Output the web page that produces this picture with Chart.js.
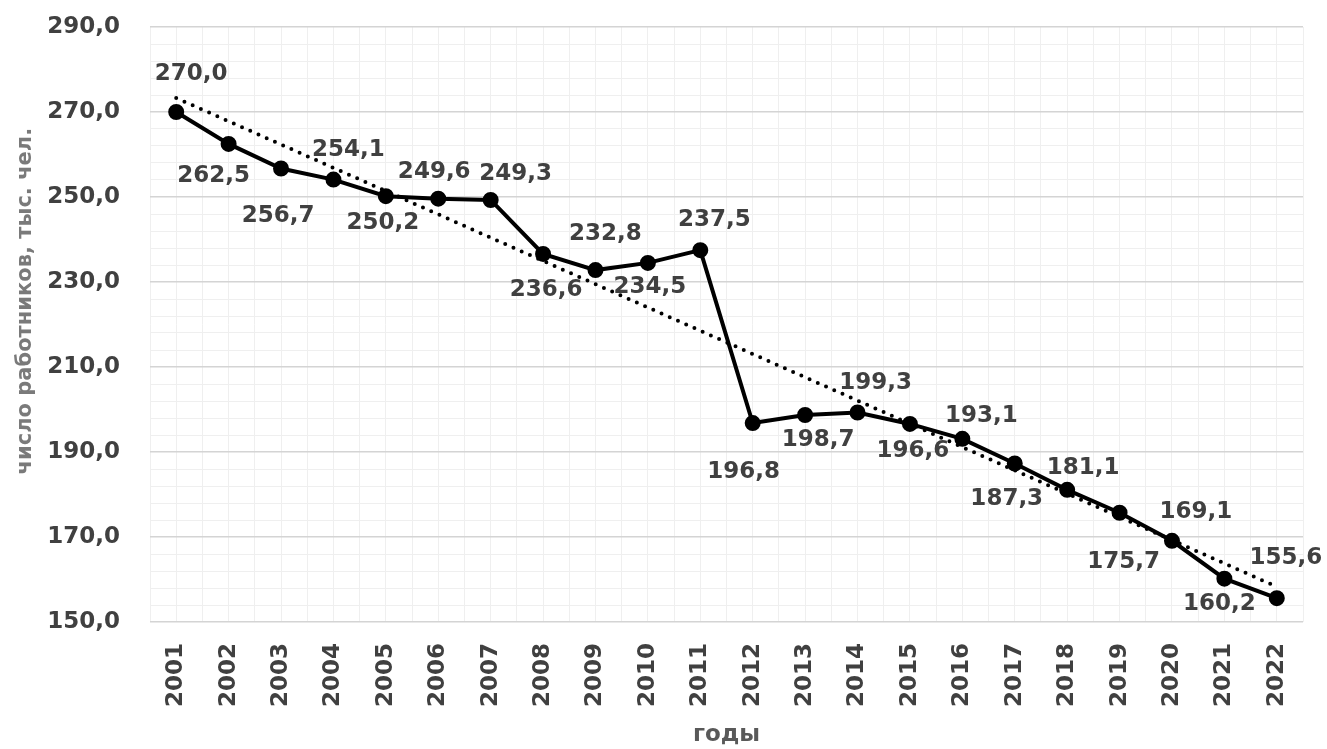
<!DOCTYPE html>
<html>
<head>
<meta charset="utf-8">
<script src="https://cdn.jsdelivr.net/npm/chart.js@4/dist/chart.umd.min.js"></script>
<style>
    html, body { margin: 0; padding: 0; background: #fff; }
    #wrap { width: 1327px; height: 749px; }
</style>
</head>
<body>
<div id="wrap"><canvas id="cav" width="1327" height="749"></canvas></div>
<script>
// Data
var years = [2001, 2002, 2003, 2004, 2005, 2006, 2007, 2008, 2009, 2010, 2011,
             2012, 2013, 2014, 2015, 2016, 2017, 2018, 2019, 2020, 2021, 2022];
var workers = [270.0, 262.5, 256.7, 254.1, 250.2, 249.6, 249.3, 236.6, 232.8, 234.5, 237.5,
               196.8, 198.7, 199.3, 196.6, 193.1, 187.3, 181.1, 175.7, 169.1, 160.2, 155.6];
// linear trend, read at both ends of the picture
var trendYears = [2001, 2022];
var trendValues = [273.3, 158.3];

var yTitle = 'число работников, тыс. чел.';
var xTitle = 'годы';

// where each value label sits relative to its point (dx, dy)
var labelShift = [
    [15, -38], [-15, 32], [-3, 48], [15, -30], [-3, 27], [-4, -27], [25, -26],
    [3, 36], [10, -36], [2, 24], [14, -30], [-9, 49], [13, 25], [18, -29],
    [3, 27], [19, -23], [-8, 36], [16, -22], [4, 49], [24, -29], [-5, 25], [9, -40]
];

var font = 'DejaVu Sans';
var textColour = '#404040';

function fmt(v) {
    return v.toFixed(1).replace('.', ',');
}

function toPoints(xs, ys) {
    var pts = [];
    xs.forEach(function (x, i) {
        pts.push({x: x, y: ys[i]});
    });
    return pts;
}

var valueLabels = {
    id: 'valueLabels',
    afterDatasetsDraw: function (chart) {
        var ctx = chart.ctx;
        var meta = chart.getDatasetMeta(0);
        ctx.save();
        ctx.font = 'bold 23px "' + font + '"';
        ctx.fillStyle = textColour;
        ctx.textAlign = 'center';
        ctx.textBaseline = 'middle';
        meta.data.forEach(function (pt, i) {
            var s = labelShift[i];
            ctx.fillText(fmt(workers[i]), pt.x + s[0], pt.y + s[1]);
        });

        // y axis title, sits a little above the middle of the axis in the original
        ctx.font = 'bold 21px "' + font + '"';
        ctx.fillStyle = '#7a7a7a';
        ctx.translate(26, chart.scales.y.getPixelForValue(225.5));
        ctx.rotate(-Math.PI / 2);
        ctx.fillText(yTitle, 0, 0);
        ctx.restore();
    }
};

var chart = new Chart(document.getElementById('cav'), {
    type: 'line',
    data: {
        datasets: [{
            data: toPoints(years, workers),
            borderColor: '#000',
            backgroundColor: '#000',
            borderWidth: 4,
            pointRadius: 6,
            pointBackgroundColor: '#000',
            pointBorderColor: '#000',
            tension: 0
        }, {
            data: toPoints(trendYears, trendValues),
            borderColor: '#000',
            borderWidth: 4,
            borderDash: [0, 9],
            borderCapStyle: 'round',
            pointRadius: 0,
            tension: 0
        }]
    },
    options: {
        responsive: false,
        animation: false,
        layout: { padding: { top: 27, right: 24, left: 0, bottom: 0 } },
        plugins: {
            legend: { display: false },
            tooltip: { enabled: false }
        },
        scales: {
            x: {
                type: 'linear',
                min: 2000.5,
                max: 2022.5,
                afterFit: function (scale) {
                    scale.height = 127;
                    scale.paddingLeft = 0;
                    scale.paddingRight = 0;
                },
                border: { display: false },
                grid: {
                    color: '#efefef',
                    lineWidth: 1,
                    drawTicks: false
                },
                ticks: {
                    stepSize: 0.5,
                    autoSkip: false,
                    minRotation: 90,
                    maxRotation: 90,
                    padding: 21,
                    color: textColour,
                    font: { family: font, size: 23, weight: 'bold' },
                    callback: function (v) {
                        return Number.isInteger(v) ? String(v) : '';
                    }
                },
                title: {
                    display: true,
                    text: xTitle,
                    color: '#595959',
                    padding: 0,
                    font: { family: font, size: 23, weight: 'bold' }
                }
            },
            y: {
                min: 150,
                max: 290,
                afterFit: function (scale) {
                    scale.width = 150;
                    scale.paddingTop = 0;
                    scale.paddingBottom = 0;
                },
                border: { display: false },
                grid: {
                    drawTicks: false,
                    color: function (c) {
                        return (c.tick.value - 150) % 20 === 0 ? '#d4d4d4' : '#efefef';
                    },
                    lineWidth: function (c) {
                        return (c.tick.value - 150) % 20 === 0 ? 1.5 : 1;
                    }
                },
                ticks: {
                    stepSize: 4,
                    autoSkip: false,
                    padding: 30,
                    color: textColour,
                    font: { family: font, size: 23, weight: 'bold' },
                    callback: function (v) {
                        return (v - 150) % 20 === 0 ? fmt(v) : '';
                    }
                },
                title: { display: false }
            }
        }
    },
    plugins: [valueLabels]
});
</script>
</body>
</html>
